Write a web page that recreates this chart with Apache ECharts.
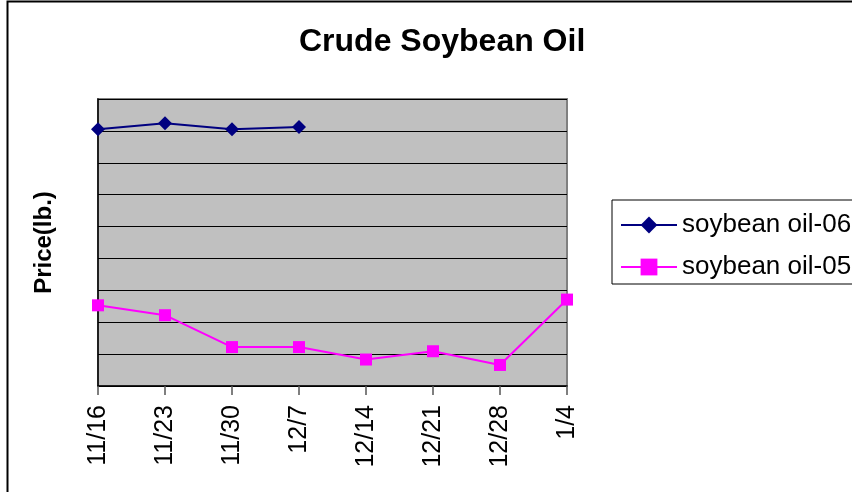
<!DOCTYPE html>
<html>
<head>
<meta charset="utf-8">
<script src="https://cdn.jsdelivr.net/npm/echarts@6/dist/echarts.min.js"></script>
<style>html,body{margin:0;padding:0;background:#fff}#c{width:852px;height:492px}</style>
</head>
<body>
<div id="c"></div>
<script>
var categories = ['11/16','11/23','11/30','12/7','12/14','12/21','12/28','1/4'];
var oil06 = [8.05, 8.24, 8.05, 8.12, null, null, null, null];
var oil05 = [2.53, 2.22, 1.22, 1.22, 0.83, 1.09, 0.66, 2.71];

var FONT = 'Arial, "Liberation Sans", sans-serif';
var chart = echarts.init(document.getElementById('c'), null, {renderer: 'canvas'});
chart.setOption({
  backgroundColor: '#fff',
  animation: false,
  title: {
    text: 'Crude Soybean Oil',
    left: 294, top: 21,
    textStyle: {fontFamily: FONT, fontWeight: 'bold', fontSize: 32, color: '#000'}
  },
  legend: {
    orient: 'vertical',
    left: 612, top: 200,
    padding: [10, 20, 2, 8],
    itemGap: 12,
    itemWidth: 56, itemHeight: 21,
    borderColor: '#000', borderWidth: 1,
    textStyle: {fontFamily: FONT, fontSize: 26, color: '#000', lineHeight: 30},
    data: ['soybean oil-06', 'soybean oil-05']
  },
  grid: {
    left: 98, right: 285, top: 99, bottom: 106,
    show: true, backgroundColor: '#c0c0c0', borderColor: '#808080', borderWidth: 2
  },
  xAxis: {
    type: 'category', data: categories, boundaryGap: false,
    axisLine: {lineStyle: {color: '#000', width: 1.5}},
    axisTick: {show: true, length: 9, alignWithLabel: true, lineStyle: {color: '#555', width: 1.5}},
    axisLabel: {rotate: 90, margin: 19, fontFamily: FONT, fontSize: 25, color: '#000', interval: 0},
    splitLine: {show: false}
  },
  yAxis: {
    type: 'value', min: 0, max: 9, interval: 1,
    name: 'Price(lb.)', nameLocation: 'middle', nameGap: 42, nameRotate: 90,
    nameTextStyle: {fontFamily: FONT, fontWeight: 'bold', fontSize: 24, color: '#000'},
    axisLine: {show: true, lineStyle: {color: '#000', width: 1.5}},
    axisTick: {show: false},
    axisLabel: {show: false},
    splitLine: {show: true, lineStyle: {color: '#000', width: 1}}
  },
  series: [
    {
      name: 'soybean oil-06', type: 'line', data: oil06,
      symbol: 'diamond', symbolSize: 14, showAllSymbol: true,
      lineStyle: {color: '#000080', width: 2},
      itemStyle: {color: '#000080'}
    },
    {
      name: 'soybean oil-05', type: 'line', data: oil05,
      symbol: 'rect', symbolSize: 12, showAllSymbol: true,
      lineStyle: {color: '#ff00ff', width: 2},
      itemStyle: {color: '#ff00ff'}
    }
  ],
  graphic: [{
    type: 'rect', z: 100, silent: true,
    shape: {x: 7.5, y: 1.5, width: 1000, height: 1000},
    style: {fill: 'none', stroke: '#000', lineWidth: 2}
  }]
});
</script>
</body>
</html>
